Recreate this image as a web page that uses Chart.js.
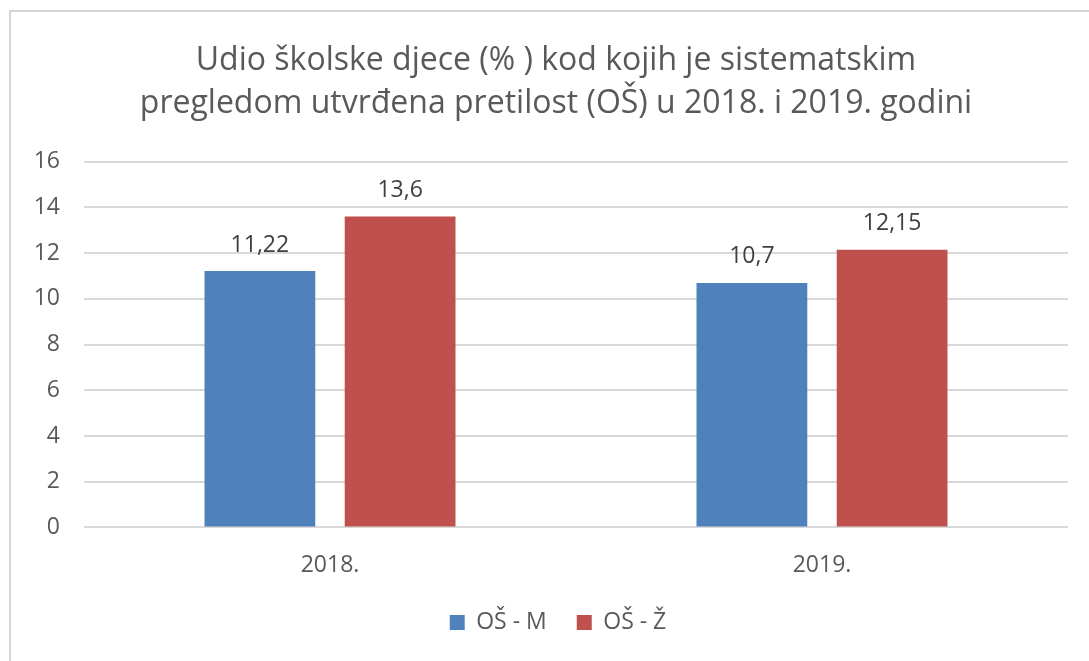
<!DOCTYPE html>
<html>
<head>
<meta charset="utf-8">
<script src="https://cdn.jsdelivr.net/npm/chart.js@4"></script>
<style>
    body { margin: 0; background: #fff; overflow: hidden; }
    #wrap { position: relative; width: 1089px; height: 661px; }
    #frame {
        position: absolute; left: 9px; top: 10px; right: 0; bottom: 0;
        border-left: 2px solid #d4d4d4; border-top: 2px solid #d4d4d4;
        pointer-events: none;
    }
</style>
</head>
<body>
<div id="wrap">
    <canvas id="grafikon" width="1089" height="661"></canvas>
    <div id="frame"></div>
</div>
<script>
// podaci sa slike
let godine = ["2018.", "2019."];
let os_m = [11.22, 10.7];
let os_z = [13.6, 12.15];
let os_m_tekst = ["11,22", "10,7"];
let os_z_tekst = ["13,6", "12,15"];

let font = "'Open Sans', sans-serif";

// natpisi iznad stupaca
let natpisi = {
    id: "natpisi",
    afterDatasetsDraw: function (chart) {
        let ctx = chart.ctx;
        ctx.save();
        ctx.font = "23px " + font;
        ctx.fillStyle = "#404040";
        ctx.textAlign = "center";
        ctx.textBaseline = "middle";
        chart.data.datasets.forEach(function (ds, i) {
            chart.getDatasetMeta(i).data.forEach(function (bar, j) {
                ctx.fillText(ds.natpisi[j], bar.x, bar.y - 26);
            });
        });
        ctx.restore();
    },
};

// naslov i legenda malo pomaknuti, kao u Excelu
let pomak = {
    id: "pomak",
    afterLayout: function (chart) {
        chart.titleBlock.left += 11;
        chart.titleBlock.right += 11;
        chart.legend.left += 13;
        chart.legend.right += 13;
        chart.legend.top -= 14;
        chart.legend.bottom -= 14;
    },
};

let ctx = document.getElementById("grafikon").getContext("2d");
new Chart(ctx, {
    type: "bar",
    data: {
        labels: godine,
        datasets: [
            {
                label: "OŠ - M",
                data: os_m,
                natpisi: os_m_tekst,
                backgroundColor: "#4F81BD",
            },
            {
                label: "OŠ - Ž",
                data: os_z,
                natpisi: os_z_tekst,
                backgroundColor: "#C0504D",
            },
        ],
    },
    options: {
        responsive: false,
        animation: false,
        categoryPercentage: 0.57,
        barPercentage: 0.79,
        layout: {
            padding: { left: 22, right: 21, top: 10, bottom: 3 },
        },
        scales: {
            x: {
                grid: { display: false },
                border: { display: false },
                ticks: { color: "#595959", font: { family: font, size: 23 }, padding: 16 },
            },
            y: {
                min: 0,
                max: 16,
                afterFit: function (scale) { scale.width = 62; },
                grid: { color: "#d9d9d9", lineWidth: 2, drawTicks: false },
                border: { display: false },
                ticks: { stepSize: 2, color: "#595959", font: { family: font, size: 23 }, padding: 24 },
            },
        },
        plugins: {
            title: {
                display: true,
                text: [
                    "Udio školske djece (% ) kod kojih je sistematskim",
                    "pregledom utvrđena pretilost (OŠ) u 2018. i 2019. godini",
                ],
                color: "#595959",
                font: { family: font, size: 32, weight: "normal", lineHeight: 1.34 },
                padding: { top: 29.5, bottom: 36.5 },
            },
            legend: {
                position: "bottom",
                labels: {
                    color: "#595959",
                    font: { family: font, size: 23 },
                    boxWidth: 15,
                    boxHeight: 15,
                    padding: 30,
                },
            },
            tooltip: { enabled: false },
        },
    },
    plugins: [natpisi, pomak],
});
</script>
</body>
</html>
